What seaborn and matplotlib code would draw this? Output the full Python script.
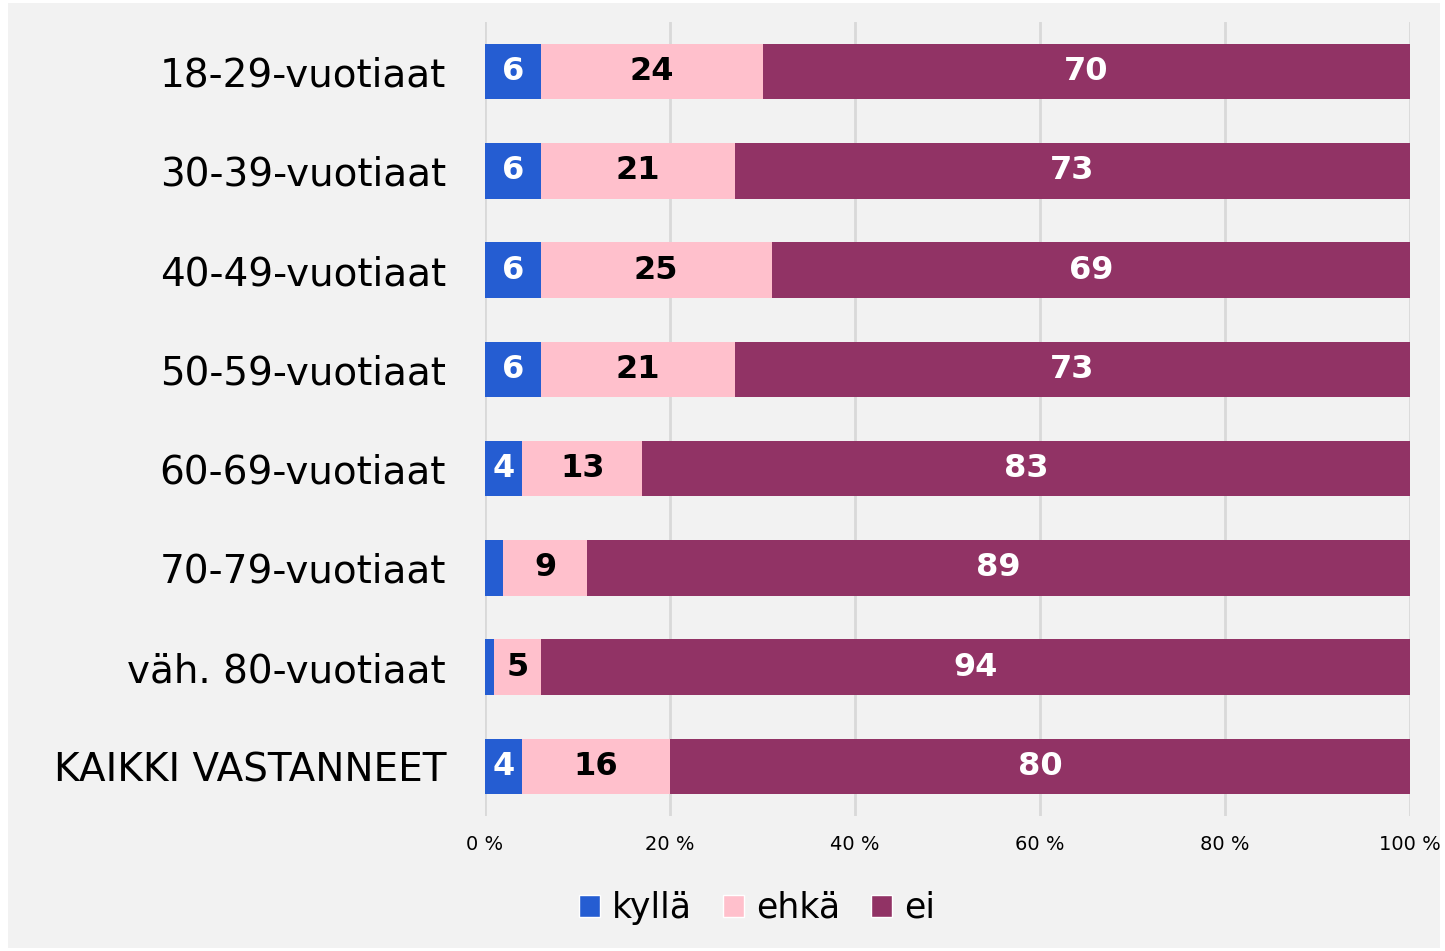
import pandas as pd
import seaborn as sns
import matplotlib.pyplot as plt
from matplotlib.patches import Rectangle, Patch

# Data (percent)
groups = ['18-29-vuotiaat', '30-39-vuotiaat', '40-49-vuotiaat', '50-59-vuotiaat',
          '60-69-vuotiaat', '70-79-vuotiaat', 'väh. 80-vuotiaat', 'KAIKKI VASTANNEET']
kylla = [6, 6, 6, 6, 4, 2, 1, 4]
ehka = [24, 21, 25, 21, 13, 9, 5, 16]
ei = [70, 73, 69, 73, 83, 89, 94, 80]
series = ['kyllä', 'ehkä', 'ei']
colors = ['#255DD2', '#FFC0CC', '#913365']
label_colors = ['white', 'black', 'white']
ticks = [0, 20, 40, 60, 80, 100]

df = pd.DataFrame({'group': groups, 'kyllä': kylla, 'ehkä': ehka, 'ei': ei})
# cumulative ends of each segment
df['c_kylla'] = df['kyllä']
df['c_ehka'] = df['kyllä'] + df['ehkä']
df['c_ei'] = df['c_ehka'] + df['ei']

sns.set_style('white')
plt.rcParams['font.family'] = ['DejaVu Sans']
plt.rcParams['text.color'] = 'black'
plt.rcParams['xtick.color'] = 'black'
plt.rcParams['ytick.color'] = 'black'

fig = plt.figure(figsize=(14.45, 9.51), dpi=100)
fig.patch.set_facecolor('white')
# grey panel behind the chart
fig.add_artist(Rectangle((8 / 1445, 3 / 951), 1432 / 1445, 945 / 951,
                         transform=fig.transFigure, facecolor='#F2F2F2',
                         edgecolor='none', zorder=-10))
ax = fig.add_axes([485 / 1445, 1 - 816 / 951, 925 / 1445, 794 / 951])
ax.set_facecolor('none')

# stacked bars: draw longest cumulative first, then overlay
for col, c in zip(['c_ei', 'c_ehka', 'c_kylla'], colors[::-1]):
    sns.barplot(data=df, x=col, y='group', orient='h', color=c, width=0.56,
                saturation=1, linewidth=0, ax=ax, zorder=3)

# segment labels
ends = [df['c_kylla'], df['c_ehka'], df['c_ei']]
vals = [df['kyllä'], df['ehkä'], df['ei']]
for s in range(3):
    for i in range(len(groups)):
        v = vals[s][i]
        if v < 3:
            continue
        ax.text(ends[s][i] - v / 2, i, f'{v}', ha='center', va='center',
                fontsize=23, fontweight='bold', color=label_colors[s], zorder=5)

ax.set_xlim(0, 100)
ax.set_ylim(7.5, -0.5)
ax.set_xticks(ticks)
ax.set_xticklabels([f'{t} %' for t in ticks], fontsize=14)
ax.tick_params(axis='x', length=0, pad=14)
ax.tick_params(axis='y', length=0, pad=28, labelsize=28)
ax.set_xlabel('')
ax.set_ylabel('')
ax.grid(axis='x', color='#D9D9D9', linewidth=2, zorder=0)
ax.set_axisbelow(True)
for sp in ax.spines.values():
    sp.set_visible(False)

handles = [Patch(facecolor=c, label=s) for s, c in zip(series, colors)]
fig.legend(handles=handles, loc='center', bbox_to_anchor=(757 / 1445, 1 - 908 / 951),
           ncol=3, frameon=False, fontsize=25, handlelength=0.6, handleheight=0.6,
           handletextpad=0.35, columnspacing=0.9)

fig.savefig('out.png', dpi=100)
